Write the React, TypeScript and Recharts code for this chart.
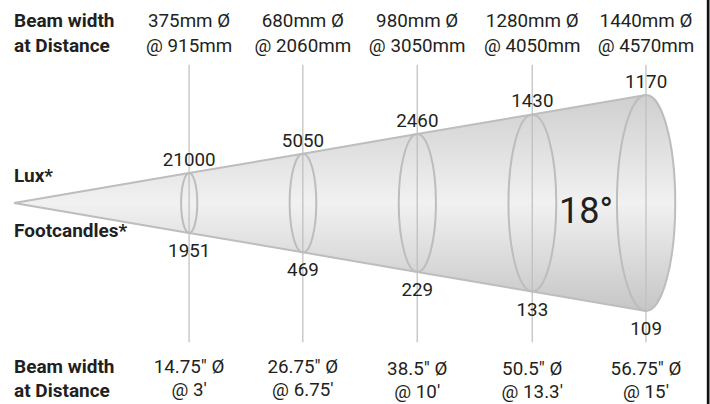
import React from 'react';
import { ComposedChart, Area, Bar, XAxis, YAxis, ReferenceLine, ReferenceDot, LabelList, Customized } from 'recharts';

document.body.style.margin = '0';

// schematic throw of each measuring station along the cone (apex = 0, far end = 1)
const stations = [0.277, 0.457, 0.638, 0.82, 1];
const luxValues = [21000, 5050, 2460, 1430, 1170];
const footcandleValues = [1951, 469, 229, 133, 109];
const beamWidthMm = [375, 680, 980, 1280, 1440];
const distanceMm = [915, 2060, 3050, 4050, 4570];
const beamWidthIn = ['14.75', '26.75', '38.5', '50.5', '56.75'];
const distanceFt = ['3', '6.75', '10', '13.3', '15'];
const beamAngle = 18;

const W = 710;
const H = 404;
const X_DOMAIN = [-0.0222, 1.1013];
const Y_DOMAIN = [-1.852, 1.8704];
const GUIDE_TOP = 1.28;
const GUIDE_BOTTOM = -1.29;

const FONT = "Roboto, 'Liberation Sans Narrow', 'DejaVu Sans Condensed', sans-serif";
const FS = 18.8;
const INK = '#231f20';
const EDGE = '#bdbdbd';

const data = [
    { t: 0, cone: [0, 0] },
    ...stations.map((t, i) => ({
        t,
        cone: [-t, t],
        ring: [-t, t],
        lux: luxValues[i],
        fc: footcandleValues[i],
        end: i === stations.length - 1,
    })),
];

const Ring = (props) => {
    const { x, y, width, height, payload } = props;
    if (!payload || !payload.ring) return null;
    const cx = x + width / 2;
    const ry = Math.abs(height) / 2;
    const cy = Math.min(y, y + height) + ry;
    const rx = ry * 0.27;
    return (
        <g>
            {payload.end && (
                <path d={`M${cx},${cy - ry} A${rx},${ry} 0 0 1 ${cx},${cy + ry} Z`} fill="url(#coneFill)" />
            )}
            <ellipse cx={cx} cy={cy} rx={rx} ry={ry} fill="none" stroke={EDGE} strokeWidth={2} />
        </g>
    );
};

const boxOf = (props) => {
    const vb = props.viewBox || props;
    const top = Math.min(vb.y, vb.y + vb.height);
    const bottom = Math.max(vb.y, vb.y + vb.height);
    return { cx: vb.x + vb.width / 2, top, bottom };
};

const LuxLabel = (props) => {
    const { cx, top } = boxOf(props);
    return (
        <text x={cx} y={top - 7} textAnchor="middle" fontFamily={FONT} fontSize={FS} fill={INK}>
            {props.value}
        </text>
    );
};

const FcLabel = (props) => {
    const { cx, bottom } = boxOf(props);
    return (
        <text x={cx} y={bottom + 24} textAnchor="middle" fontFamily={FONT} fontSize={FS} fill={INK}>
            {props.value}
        </text>
    );
};

const AngleLabel = (props) => {
    const vb = props.viewBox;
    return (
        <text x={vb.x + vb.width / 2} y={vb.y + vb.height / 2 + 13} textAnchor="middle" fontFamily={FONT} fontSize={36} fill={INK}>
            {`${beamAngle}°`}
        </text>
    );
};

const TopTick = ({ x, y, index }) => (
    <text x={x} y={y} textAnchor="middle" fontFamily={FONT} fontSize={FS} fill={INK}>
        <tspan x={x} dy={26}>{`${beamWidthMm[index]}mm Ø`}</tspan>
        <tspan x={x} dy={25}>{`@ ${distanceMm[index]}mm`}</tspan>
    </text>
);

const BottomTick = ({ x, y, index }) => (
    <text x={x} y={y} textAnchor="middle" fontFamily={FONT} fontSize={FS} fill={INK}>
        <tspan x={x} dy={index < 2 ? -30 : -28}>{`${beamWidthIn[index]}″ Ø`}</tspan>
        <tspan x={x} dy={23}>{`@ ${distanceFt[index]}′`}</tspan>
    </text>
);

const StaticText = () => (
    <g fontFamily={FONT} fill={INK} fontSize={19} fontWeight="bold">
        <text x={14} y={27}>Beam width</text>
        <text x={14} y={52}>at Distance</text>
        <text x={14} y={182}>Lux*</text>
        <text x={14} y={237}>Footcandles*</text>
        <text x={14} y={373}>Beam width</text>
        <text x={14} y={397}>at Distance</text>
        <rect x={706.8} y={0} width={2.7} height={H} fill="#111" />
    </g>
);

export default function App() {
    return (
        <div style={{ width: W, height: H, background: '#fff' }}>
            <ComposedChart width={W} height={H} data={data} margin={{ top: 0, right: 0, bottom: 0, left: 0 }}>
                <defs>
                    <linearGradient id="coneFill" x1="0" y1="0" x2="0" y2="1">
                        <stop offset="0%" stopColor="#cfcfcf" />
                        <stop offset="50%" stopColor="#f1f1f1" />
                        <stop offset="100%" stopColor="#c6c6c6" />
                    </linearGradient>
                </defs>
                <XAxis
                    xAxisId="top"
                    orientation="top"
                    type="number"
                    dataKey="t"
                    domain={X_DOMAIN}
                    allowDataOverflow
                    ticks={stations}
                    interval={0}
                    height={1}
                    tickSize={0}
                    tickMargin={0}
                    axisLine={false}
                    tickLine={false}
                    tick={TopTick}
                />
                <XAxis
                    xAxisId="bottom"
                    orientation="bottom"
                    type="number"
                    dataKey="t"
                    domain={X_DOMAIN}
                    allowDataOverflow
                    ticks={stations}
                    interval={0}
                    height={1}
                    tickSize={0}
                    tickMargin={0}
                    axisLine={false}
                    tickLine={false}
                    tick={BottomTick}
                />
                <YAxis type="number" domain={Y_DOMAIN} allowDataOverflow hide />
                <Area
                    xAxisId="bottom"
                    type="linear"
                    dataKey="cone"
                    fill="url(#coneFill)"
                    fillOpacity={1}
                    stroke={EDGE}
                    strokeWidth={2}
                    dot={false}
                    activeDot={false}
                    isAnimationActive={false}
                />
                {stations.map((t) => (
                    <ReferenceLine
                        key={t}
                        xAxisId="bottom"
                        segment={[{ x: t, y: GUIDE_TOP }, { x: t, y: GUIDE_BOTTOM }]}
                        stroke={EDGE}
                        strokeWidth={1.2}
                    />
                ))}
                <Bar xAxisId="bottom" dataKey="ring" barSize={10} shape={Ring} isAnimationActive={false}>
                    <LabelList dataKey="lux" content={LuxLabel} />
                    <LabelList dataKey="fc" content={FcLabel} />
                </Bar>
                <ReferenceDot
                    xAxisId="bottom"
                    x={0.905}
                    y={-0.065}
                    r={1}
                    fill="none"
                    stroke="none"
                    label={<AngleLabel />}
                />
                <Customized component={StaticText} />
            </ComposedChart>
        </div>
    );
}
